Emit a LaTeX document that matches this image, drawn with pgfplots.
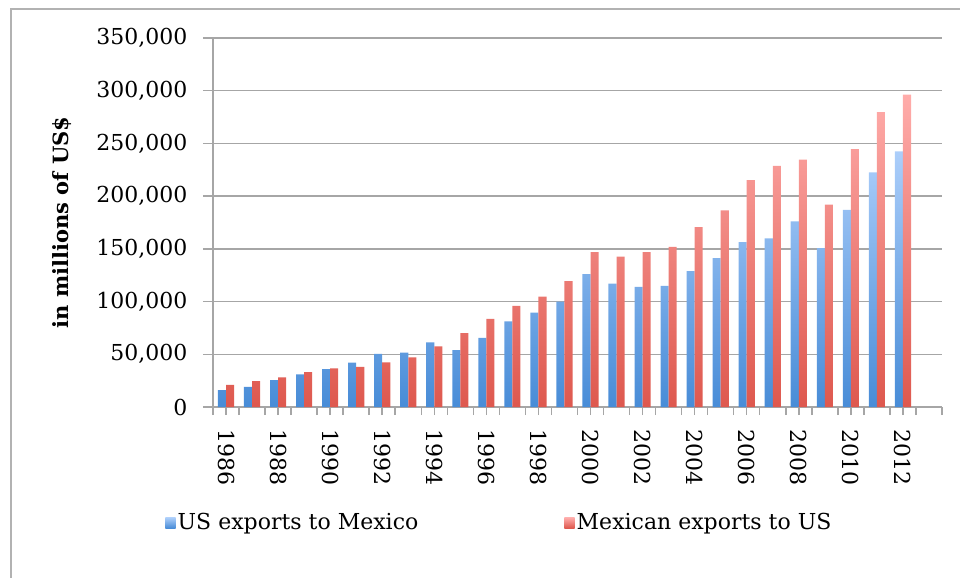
\documentclass[border=0pt]{standalone}
\usepackage{fontspec}
\setmainfont{DejaVu Serif}
\usepackage{pgfplots}
\pgfplotsset{compat=1.18}

\definecolor{usTop}{RGB}{172,206,250}
\definecolor{usBot}{RGB}{72,140,215}
\definecolor{mxTop}{RGB}{255,172,170}
\definecolor{mxBot}{RGB}{222,88,78}
\definecolor{gridgray}{RGB}{166,166,166}
\definecolor{framegray}{RGB}{178,178,178}

\begin{document}
\begin{tikzpicture}
% page area and chart frame
\path[use as bounding box] (0pt,0pt) rectangle (480pt,-289pt);
\draw[framegray, line width=1pt] (5.5pt,-289pt) -- (5.5pt,-4.5pt) -- (480pt,-4.5pt);

\begin{axis}[
  at={(106.5pt,-203.5pt)}, anchor=south west,
  scale only axis, width=364.5pt, height=184.5pt,
  ybar, bar width=0.31,
  xmin=-0.5, xmax=27.5,
  ymin=0, ymax=350000,
  ytick={0,50000,...,350000},
  scaled y ticks=false,
  yticklabel={\pgfmathprintnumber[fixed, precision=0, 1000 sep={,}, assume math mode=true]{\tick}},
  axis x line*=bottom, axis y line*=left,
  axis line style={gridgray, line width=0.75pt},
  ymajorgrids, major grid style={gridgray, line width=0.75pt},
  tick align=outside,
  ytick style={gridgray, line width=0.75pt, /pgfplots/major tick length=5pt},
  xtick={-0.5,0.5,...,27.5},
  xticklabels={},
  xtick style={gridgray, line width=0.75pt, /pgfplots/major tick length=4pt},
  extra x ticks={0,2,...,26},
  extra x tick labels={1986,1988,1990,1992,1994,1996,1998,2000,2002,2004,2006,2008,2010,2012},
  extra x tick style={major tick length=0pt, xticklabel style={rotate=-90, anchor=west, xshift=7.5pt}},
  tick label style={font=\fontsize{11}{13}\selectfont, text=black},
  yticklabel style={xshift=-5pt},
  ylabel={in millions of US\$},
  every axis y label/.style={at={(axis description cs:-0.207,0.5)}, rotate=90, anchor=center, font=\fontsize{10.5}{12}\selectfont\bfseries},
  legend columns=2,
  legend style={at={(axis description cs:-0.066,-0.314)}, anchor=west, draw=none, fill=none, inner sep=0pt,
    font=\fontsize{11}{13}\selectfont,
    nodes={inner xsep=1pt},
    /tikz/every even column/.append style={column sep=72pt},
    /tikz/every odd column/.append style={column sep=0pt}},
  legend image code/.code={\path[#1, draw=none] (0pt,-2.6pt) rectangle (5.2pt,2.6pt);},
]
% US exports to Mexico (millions of US$)
\addplot[draw=none, bar shift=-0.155, top color=usTop, bottom color=usBot] coordinates {
 (0,16000) (1,19000) (2,25500) (3,31000) (4,36000) (5,42000) (6,50300)
 (7,51500) (8,61400) (9,54000) (10,65500) (11,81300) (12,89500) (13,100000)
 (14,126000) (15,117000) (16,114000) (17,115000) (18,129000) (19,141300)
 (20,156500) (21,160000) (22,176000) (23,150800) (24,186900) (25,222600) (26,242500)
};
% Mexican exports to US (millions of US$)
\addplot[draw=none, bar shift=0.155, top color=mxTop, bottom color=mxBot] coordinates {
 (0,21000) (1,24500) (2,28000) (3,33000) (4,36700) (5,38000) (6,42400)
 (7,47000) (8,57500) (9,70000) (10,83500) (11,96000) (12,104600) (13,119500)
 (14,146800) (15,142600) (16,147000) (17,151800) (18,170700) (19,186600)
 (20,215300) (21,228600) (22,234700) (23,192000) (24,244700) (25,279800) (26,296300)
};
\legend{US exports to Mexico, Mexican exports to US}
\end{axis}
\end{tikzpicture}
\end{document}
